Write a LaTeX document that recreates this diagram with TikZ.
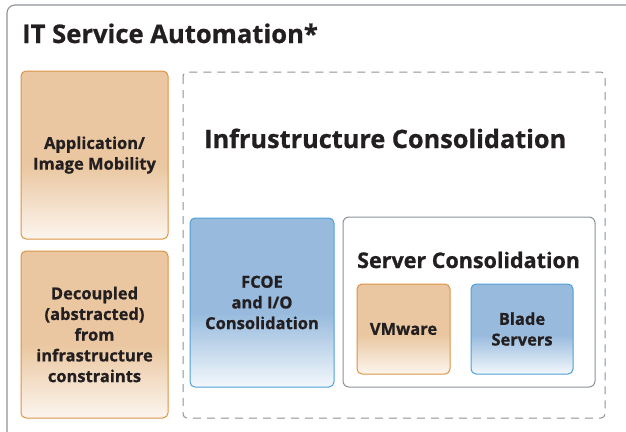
\documentclass[tikz,border=0pt]{standalone}
\usepackage{fontspec}
\setmainfont{Open Sans}[BoldFeatures={FakeBold=0.8}]
\definecolor{txt}{HTML}{231F20}
\definecolor{grayline}{HTML}{8C9298}
\definecolor{orfill}{HTML}{EAC7A0}
\definecolor{orlight}{HTML}{FCF5EE}
\definecolor{orline}{HTML}{DB9444}
\definecolor{blfill}{HTML}{97BADD}
\definecolor{bllight}{HTML}{F3F8FC}
\definecolor{blline}{HTML}{4EA0D6}
\pgfdeclareverticalshading{orshade}{100bp}{color(0bp)=(orlight); color(25bp)=(orlight); color(47bp)=(orfill); color(100bp)=(orfill)}
\pgfdeclareverticalshading{blshade}{100bp}{color(0bp)=(bllight); color(25bp)=(bllight); color(47bp)=(blfill); color(100bp)=(blfill)}
\tikzset{
  box/.style={rounded corners=5pt, line width=1pt, align=center, inner sep=0pt, text=txt,
    font=\bfseries\fontsize{16.5}{20.7}\selectfont},
  orbox/.style={box, draw=orline, shading=orshade},
  blbox/.style={box, draw=blline, shading=blshade},
  frame/.style={draw=grayline, line width=1.1pt},
  heading/.style={anchor=base west, inner sep=0pt, text=txt},
}
\begin{document}
\begin{tikzpicture}[x=1pt,y=-1pt]
\useasboundingbox (0,0) rectangle (626,431);
\clip (0,0) rectangle (626,431);
\draw[frame, rounded corners=8pt] (7,5) rectangle (660,445);
\node[heading, font=\bfseries\fontsize{25.6}{30}\selectfont] (title) at (22,43) {IT Service Automation*};
\node[orbox, minimum width=147pt, minimum height=168pt] (app) at (94.5,155) {Application/\\Image Mobility};
\node[orbox, minimum width=147pt, minimum height=167pt] (dec) at (94.5,334.5) {Decoupled\\(abstracted)\\from\\infrastructure\\constraints};
\draw[frame, line width=1pt, rounded corners=4pt, dash pattern=on 8pt off 6pt] (183,72) rectangle (605,418);
\node[heading, font=\bfseries\fontsize{25.3}{30}\selectfont] (infra) at (204,148) {Infrustructure Consolidation};
\node[blbox, minimum width=144pt, minimum height=169pt] (fcoe) at (262,302.5) {FCOE\\and I/O\\Consolidation};
\draw[frame, line width=1pt, rounded corners=6pt] (343,217) rectangle (595,387);
\node[heading, font=\bfseries\fontsize{21.5}{26}\selectfont] (server) at (357,268) {Server Consolidation};
\node[orbox, minimum width=93pt, minimum height=90pt] (vm) at (403.5,329) {VMware};
\node[blbox, minimum width=102pt, minimum height=90pt] (blade) at (522,329) {Blade\\Servers};
\end{tikzpicture}
\end{document}
